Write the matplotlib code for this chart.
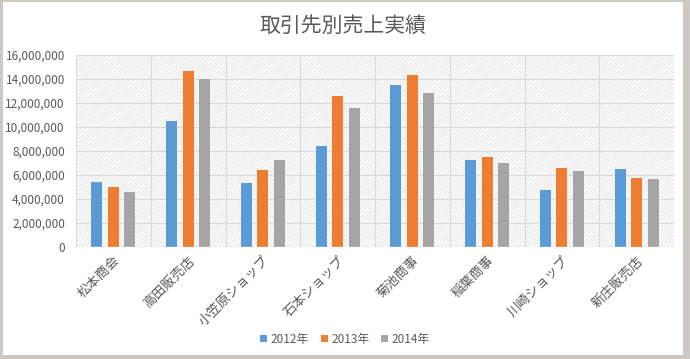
import numpy as np
import matplotlib.pyplot as plt
from matplotlib.patches import Rectangle
from matplotlib.ticker import FuncFormatter

plt.rcParams['font.family'] = ['Noto Sans CJK JP', 'DejaVu Sans']
plt.rcParams['hatch.linewidth'] = 0.6

# data
customers = ['松本商会', '高田販売店', '小笠原ショップ', '石本ショップ',
             '菊池商事', '稲葉商事', '川崎ショップ', '新庄販売店']
years = ['2012年', '2013年', '2014年']
sales_2012 = [5450000, 10480000, 5360000, 8420000, 13470000, 7250000, 4780000, 6530000]
sales_2013 = [4970000, 14640000, 6420000, 12600000, 14360000, 7520000, 6580000, 5780000]
sales_2014 = [4590000, 13970000, 7220000, 11580000, 12800000, 6970000, 6360000, 5640000]
colors = ['#5B9BD5', '#ED7D31', '#A5A5A5']
text_col = '#595959'
grid_col = '#d9d9d9'

fig = plt.figure(figsize=(6.9, 3.59), dpi=100)
fig.patch.set_facecolor('#cdc8c2')
# white chart area inside the taupe frame
fig.add_artist(Rectangle((3 / 690, 4 / 359), 680 / 690, 353 / 359,
                         transform=fig.transFigure, facecolor='white',
                         edgecolor='none', zorder=0))

ax = fig.add_axes([76 / 690, 1 - 247 / 359, 598 / 690, 192 / 359])
ax.set_facecolor('none')

# hatched plot background
ax.add_patch(Rectangle((0, 0), 1, 1, transform=ax.transAxes, facecolor='white',
                       edgecolor='#dedede', linewidth=0, hatch='\\' * 9, zorder=0))

x = np.arange(len(customers))
w = 0.147
off = 0.22
for i, (vals, c) in enumerate(zip([sales_2012, sales_2013, sales_2014], colors)):
    ax.bar(x + (i - 1) * off, vals, width=w, color=c, label=years[i], zorder=3)

ax.set_xlim(-0.5, len(customers) - 0.5)
ax.set_ylim(0, 16000000)
ax.set_yticks(np.arange(0, 16000001, 2000000))
ax.yaxis.set_major_formatter(FuncFormatter(lambda v, p: f'{int(v):,}'))
ax.set_xticks(x)
ax.set_xticklabels(customers, rotation=45, ha='right', rotation_mode='anchor')
ax.tick_params(axis='both', length=0, colors=text_col, labelsize=8.5)
ax.tick_params(axis='x', pad=5, labelsize=9.5)
ax.tick_params(axis='y', pad=8)

ax.yaxis.grid(True, color=grid_col, linewidth=0.8, zorder=1)
ax.set_axisbelow(True)
for b in np.arange(-0.5, len(customers), 1.0):
    ax.axvline(b, color=grid_col, linewidth=0.8, zorder=1)
for s in ax.spines.values():
    s.set_visible(False)
ax.axhline(0, color=grid_col, linewidth=1, zorder=4)

fig.text(0.497, 1 - 26 / 359, '取引先別売上実績', ha='center', va='center',
         fontsize=15, color=text_col)

fig.legend(loc='center', bbox_to_anchor=(0.5, 1 - 339 / 359), ncol=3, frameon=False,
           fontsize=8.5, labelcolor=text_col, handlelength=0.6, handleheight=0.6,
           handletextpad=0.3, columnspacing=1.0)

fig.savefig('out.png', dpi=100, facecolor=fig.get_facecolor())
